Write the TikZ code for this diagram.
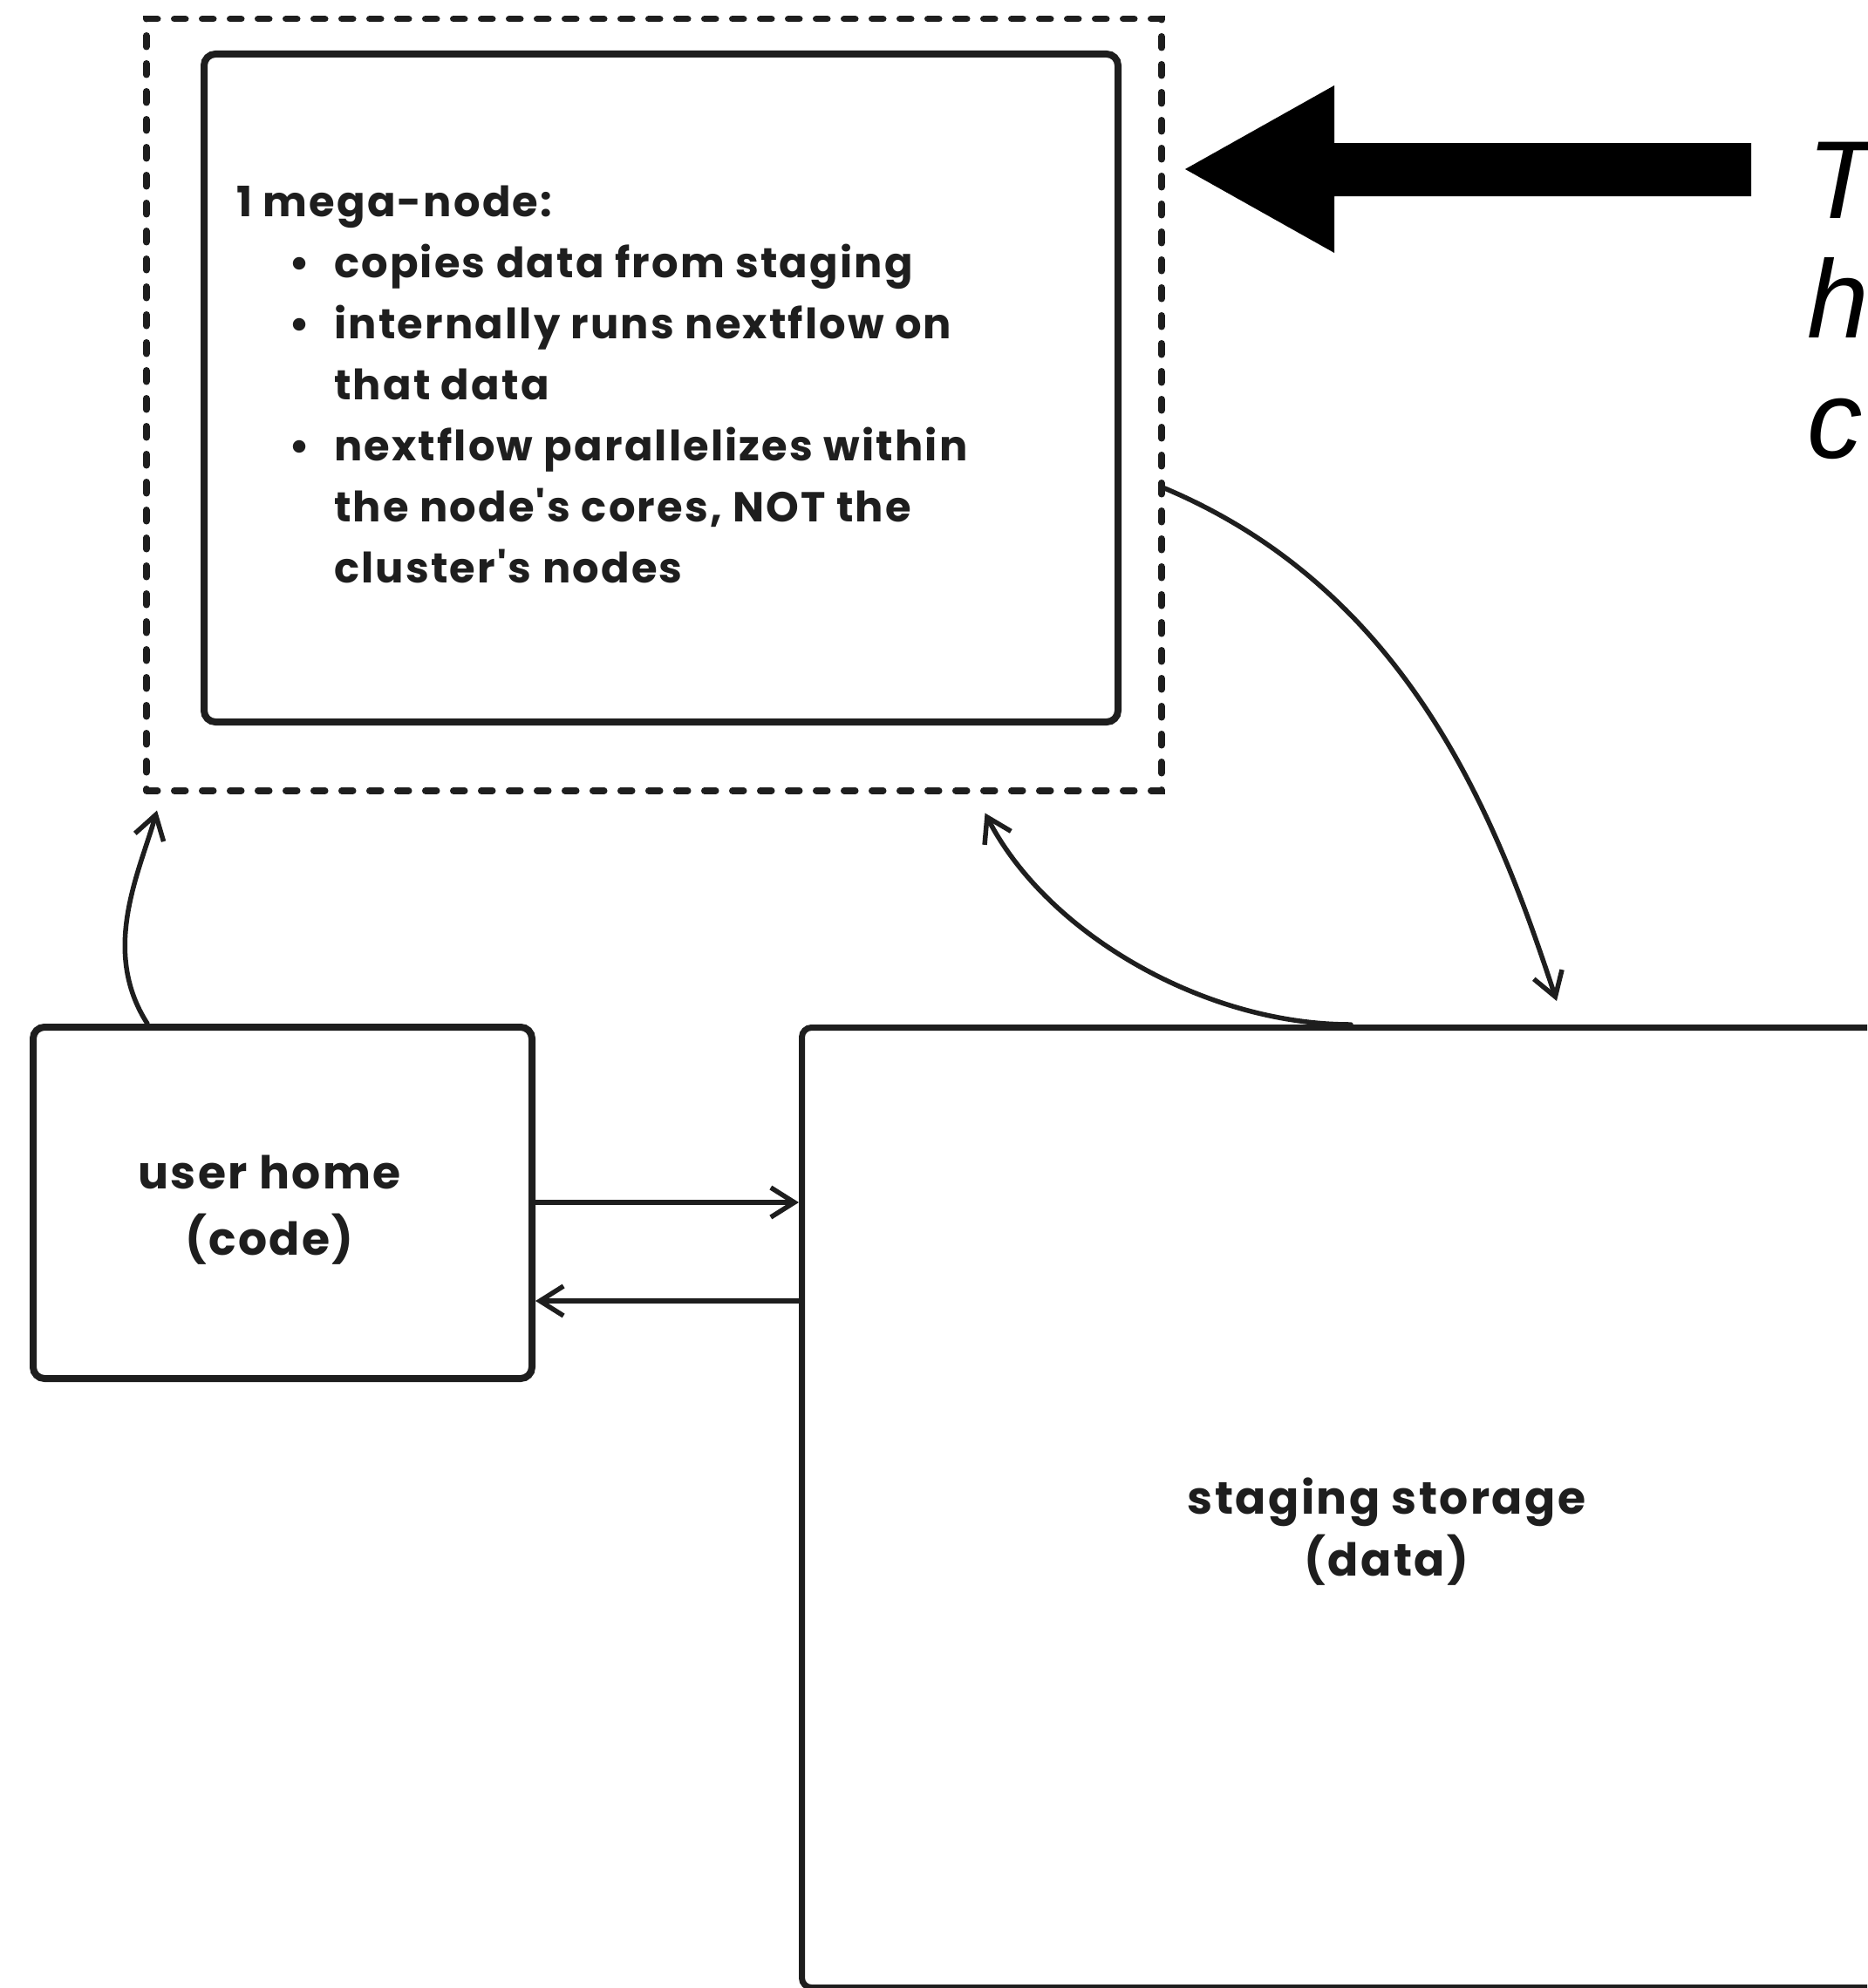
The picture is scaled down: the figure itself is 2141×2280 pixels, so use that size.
\documentclass[tikz,border=0pt]{standalone}
\usepackage{fontspec}
\newfontfamily\handfont{Poppins}[LetterSpace=4.5]
\newfontfamily\notefont{Liberation Sans}
\usetikzlibrary{arrows.meta}
\definecolor{ink}{HTML}{1E1E1E}
\begin{document}
\begin{tikzpicture}[x=1pt, y=-1pt,
  box/.style={draw=ink, line width=8pt, rounded corners=13pt, inner sep=0pt, anchor=north west},
  frame/.style={draw=ink, line width=7.5pt, dash pattern=on 13pt off 19pt, line cap=round, inner sep=0pt, anchor=north west},
  link/.style={draw=ink, line width=5.5pt, line cap=round,
    -{Straight Barb[length=27pt, width=34pt, line width=5.5pt]}},
  hand/.style={text=ink, inner sep=0pt, font=\handfont\bfseries\fontsize{48}{70}\selectfont},
  label/.style={text=ink, inner sep=0pt, anchor=base, font=\handfont\bfseries\fontsize{52}{#1}\selectfont},
]
\useasboundingbox (0,0) rectangle (2141,2280);
\begin{scope}
\clip (0,0) rectangle (2141,2280);

% dashed cluster frame and the mega-node inside it
\node[frame, minimum width=1164pt, minimum height=885pt] (cluster) at (164,18) {};
\node[box, minimum width=1048pt, minimum height=766pt] (mega) at (230,58) {};
\node[hand, anchor=base west] (megatext) at (271,248) {\parbox[t]{1000pt}{\raggedright
1 mega-node:\\
\hspace*{60pt}\makebox[52pt][l]{•}copies data from staging\\
\hspace*{60pt}\makebox[52pt][l]{•}internally runs nextflow on\\
\hspace*{112pt}that data\\
\hspace*{60pt}\makebox[52pt][l]{•}nextflow parallelizes within\\
\hspace*{112pt}the node's cores, NOT the\\
\hspace*{112pt}cluster's nodes}};

% user home and staging storage
\node[box, minimum width=572pt, minimum height=403pt] (home) at (34,1174) {};
\node[label=76] (hometext) at (309,1363) {\parbox[t]{500pt}{\centering user home\\(code)}};
\node[box, line width=7pt, rounded corners=11pt, minimum width=1384pt, minimum height=1101pt] (staging) at (916,1175) {};
\node[label=71] (stagingtext) at (1590,1736) {\parbox[t]{700pt}{\centering staging storage\\(data)}};

% connectors
\draw[link] ([xshift=135pt]home.north west)
  .. controls (115,1090) and (160,1000) .. ([xshift=16pt,yshift=-19pt]cluster.south west);
\draw[link] ([xshift=633pt]staging.north west)
  .. controls (1380,1175) and (1200,1070) .. ([xshift=-206pt,yshift=-22pt]cluster.south east);
\draw[link] ([yshift=-542pt]cluster.north east)
  .. controls (1620,680) and (1719,948) .. ([xshift=869pt,yshift=27pt]staging.north west);
\coordinate (hr) at ([yshift=-205pt]home.north east);
\coordinate (sl) at ([yshift=-317pt]staging.north west);
\draw[link] (hr) -- (hr -| staging.west);
\draw[link] (sl) -- (sl -| home.east);

% block arrow and side note
\coordinate (tip) at (1359,194);
\fill[black] (tip) -- (1530,98) -- (1530,164) -- (2008,164) -- (2008,225)
  -- (1530,225) -- (1530,290) -- cycle;
\node[anchor=base west, inner sep=0pt, font=\notefont\itshape\fontsize{127}{137.5}\selectfont] (note)
  at (2072,250) {\parbox[t]{200pt}{\raggedright T\\h\\c}};
\end{scope}
\end{tikzpicture}
\end{document}
